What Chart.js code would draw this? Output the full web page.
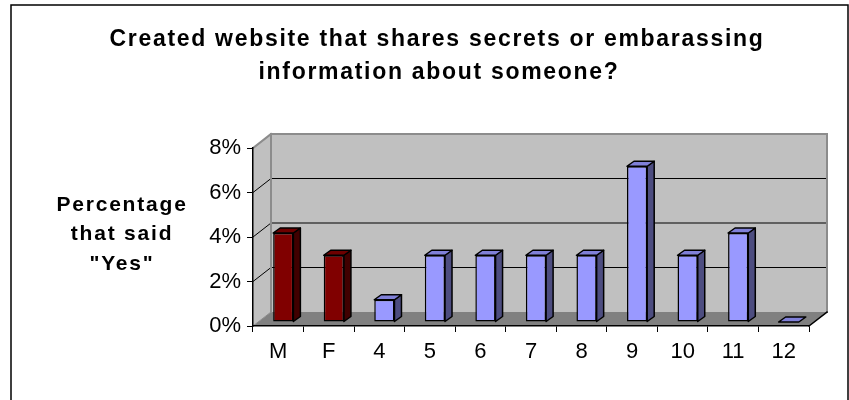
<!DOCTYPE html>
<html>
<head>
<meta charset="utf-8">
<script src="https://cdn.jsdelivr.net/npm/chart.js@4.4.0/dist/chart.umd.min.js"></script>
<style>
    html, body { margin: 0; padding: 0; background: #fff; }
    #wrap { width: 849px; height: 400px; }
</style>
</head>
<body>
<div id="wrap"><canvas id="chart" width="849" height="400"></canvas></div>
<script>
/* data */
const categories = ['M', 'F', '4', '5', '6', '7', '8', '9', '10', '11', '12'];
const groups = ['gender', 'gender', 'grade', 'grade', 'grade', 'grade', 'grade', 'grade', 'grade', 'grade', 'grade'];
const yesPercent = [4, 3, 1, 3, 3, 3, 3, 7, 3, 4, 0];
const yTicks = [0, 2, 4, 6, 8];
const titleLines = ['Created website that shares secrets or embarassing', 'information about someone?'];
const yTitleLines = ['Percentage', 'that said', '"Yes"'];

/* =========================================
   STYLE
   ========================================= */
const FONT = '"Liberation Sans", Arial, sans-serif';
const COLORS = {
    gender: { front: '#800000', side: '#400000', top: '#6e0000' },
    grade:  { front: '#9999ff', side: '#4d4d80', top: '#8080d8' }
};
const WALL = '#c0c0c0';
const FLOOR = '#808080';
const WALL_EDGE = '#8c8c8c';

// 3D offsets (pixels)
const DEPTH_X = 18, DEPTH_Y = -14;
const BAR_SHIFT_X = 5, BAR_SHIFT_Y = -4;
const BAR_DEPTH_X = 7, BAR_DEPTH_Y = -5;

function poly(ctx, pts, fill, stroke, lw) {
    ctx.beginPath();
    ctx.moveTo(pts[0][0], pts[0][1]);
    for (let i = 1; i < pts.length; i++) ctx.lineTo(pts[i][0], pts[i][1]);
    ctx.closePath();
    if (fill) { ctx.fillStyle = fill; ctx.fill(); }
    if (stroke) { ctx.strokeStyle = stroke; ctx.lineWidth = lw || 1; ctx.stroke(); }
}

function line(ctx, x1, y1, x2, y2, color, lw) {
    ctx.beginPath();
    ctx.moveTo(x1, y1);
    ctx.lineTo(x2, y2);
    ctx.strokeStyle = color;
    ctx.lineWidth = lw || 1;
    ctx.stroke();
}

const threeDPlugin = {
    id: 'threeD',
    beforeDraw(chart) {
        const { ctx, chartArea: a, scales: { y } } = chart;
        ctx.save();

        // outer frame
        ctx.strokeStyle = '#000';
        ctx.lineWidth = 1.5;
        ctx.strokeRect(11, 5, 837, 420);

        const L = a.left, R = a.right, T = a.top, B = a.bottom;
        // back wall
        poly(ctx, [[L + DEPTH_X, T + DEPTH_Y], [R + DEPTH_X, T + DEPTH_Y], [R + DEPTH_X, B + DEPTH_Y], [L + DEPTH_X, B + DEPTH_Y]], WALL);
        // left side wall
        poly(ctx, [[L, T], [L + DEPTH_X, T + DEPTH_Y], [L + DEPTH_X, B + DEPTH_Y], [L, B]], WALL);
        // floor
        poly(ctx, [[L, B], [R, B], [R + DEPTH_X, B + DEPTH_Y], [L + DEPTH_X, B + DEPTH_Y]], FLOOR);

        // gridlines on the walls
        yTicks.forEach(v => {
            const py = y.getPixelForValue(v);
            if (v === 0 || v === y.max) return;
            line(ctx, L, py, L + DEPTH_X, py + DEPTH_Y, '#000', 1);
            line(ctx, L + DEPTH_X, py + DEPTH_Y, R + DEPTH_X, py + DEPTH_Y, '#000', 1);
        });

        // wall edges
        ctx.lineCap = 'square';
        line(ctx, L, T, L + DEPTH_X, T + DEPTH_Y, WALL_EDGE, 2);
        line(ctx, L + DEPTH_X, T + DEPTH_Y, R + DEPTH_X, T + DEPTH_Y, WALL_EDGE, 2);
        line(ctx, R + DEPTH_X, T + DEPTH_Y, R + DEPTH_X, B + DEPTH_Y, WALL_EDGE, 2);
        line(ctx, L + DEPTH_X, T + DEPTH_Y, L + DEPTH_X, B + DEPTH_Y, WALL_EDGE, 2);
        line(ctx, L, B, L + DEPTH_X, B + DEPTH_Y, WALL_EDGE, 1);
        line(ctx, R, B, R + DEPTH_X, B + DEPTH_Y, '#000', 1.5);
        ctx.restore();
    },
    beforeDatasetsDraw(chart) {
        const { ctx } = chart;
        ctx.save();
        ctx.translate(BAR_SHIFT_X, BAR_SHIFT_Y);
        const meta = chart.getDatasetMeta(0);
        meta.data.forEach((bar, i) => {
            const c = COLORS[groups[i]];
            const half = bar.width / 2;
            const left = bar.x - half, right = bar.x + half;
            const top = Math.min(bar.y, bar.base), bottom = Math.max(bar.y, bar.base);
            ctx.lineJoin = 'round';
            if (bottom - top > 0.5) {
                poly(ctx, [[right, top], [right + BAR_DEPTH_X, top + BAR_DEPTH_Y],
                           [right + BAR_DEPTH_X, bottom + BAR_DEPTH_Y], [right, bottom]], c.side, '#000', 1.5);
            }
            poly(ctx, [[left, top], [left + BAR_DEPTH_X, top + BAR_DEPTH_Y],
                       [right + BAR_DEPTH_X, top + BAR_DEPTH_Y], [right, top]], c.top, '#000', 1.5);
        });
    },
    afterDatasetsDraw(chart) {
        chart.ctx.restore();
    },
    afterDraw(chart) {
        const { ctx } = chart;
        ctx.save();
        ctx.fillStyle = '#000';
        ctx.textAlign = 'center';
        ctx.textBaseline = 'alphabetic';

        // chart title
        ctx.font = 'bold 23px ' + FONT;
        ctx.letterSpacing = '1.7px';
        ctx.fillText(titleLines[0], 437, 46);
        ctx.fillText(titleLines[1], 439, 79);

        // y axis title
        ctx.font = 'bold 21px ' + FONT;
        ctx.letterSpacing = '1.8px';
        const yBase = [211, 240, 270];
        yTitleLines.forEach((t, i) => ctx.fillText(t, 122, yBase[i]));
        ctx.restore();
    }
};

/* =========================================
   CHART
   ========================================= */
function renderChart() {
    const ctx = document.getElementById('chart');
    const tickFont = { family: FONT, size: 22 };

    new Chart(ctx, {
        type: 'bar',
        data: {
            labels: categories,
            datasets: [{
                data: yesPercent,
                backgroundColor: groups.map(g => COLORS[g].front),
                borderColor: '#000',
                borderWidth: 1.5,
                borderSkipped: false,
                barPercentage: 0.4,
                categoryPercentage: 1,
                clip: false
            }]
        },
        options: {
            responsive: false,
            animation: false,
            layout: { padding: { top: 148, right: 40, left: 0, bottom: 0 } },
            plugins: {
                legend: { display: false },
                tooltip: { enabled: false },
                title: { display: false }
            },
            scales: {
                x: {
                    grid: { drawOnChartArea: false, drawTicks: true, tickLength: 6, color: '#000', offset: true },
                    border: { display: true, color: '#000', width: 1.5 },
                    ticks: { font: tickFont, color: '#000', padding: 7, maxRotation: 0 },
                    afterFit: s => { s.height = 74; }
                },
                y: {
                    min: 0,
                    max: 8,
                    afterBuildTicks: s => { s.ticks = yTicks.map(v => ({ value: v })); },
                    ticks: { font: tickFont, color: '#000', padding: 6, callback: v => v + '%' },
                    grid: { drawOnChartArea: false, drawTicks: true, tickLength: 6, color: '#000' },
                    border: { display: true, color: '#000', width: 1.5 },
                    afterFit: s => { s.width = 253; }
                }
            }
        },
        plugins: [threeDPlugin]
    });
}

document.addEventListener('DOMContentLoaded', renderChart);
</script>
</body>
</html>
